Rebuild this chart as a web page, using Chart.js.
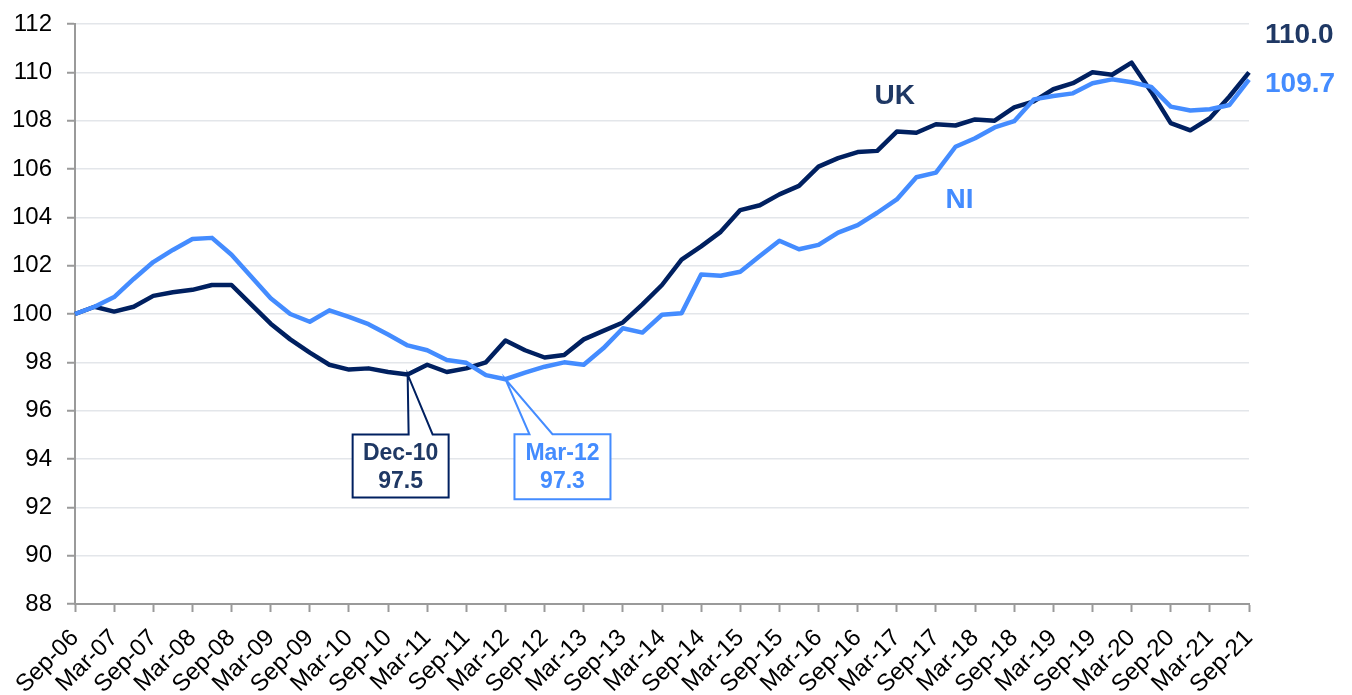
<!DOCTYPE html>
<html>
<head>
<meta charset="utf-8">
<title>House price index - UK and NI</title>
<script src="https://cdn.jsdelivr.net/npm/chart.js@4.4.1/dist/chart.umd.min.js"></script>
<style>
    html, body { margin: 0; padding: 0; background: #fff; }
    #wrap { width: 1352px; height: 695px; }
</style>
</head>
<body>
<div id="wrap"><canvas id="indexChart" width="1352" height="695"></canvas></div>
<script>
// Quarterly index, Sep-06 = 100
const quarters = [
    'Sep-06', 'Dec-06', 'Mar-07', 'Jun-07', 'Sep-07', 'Dec-07', 'Mar-08', 'Jun-08',
    'Sep-08', 'Dec-08', 'Mar-09', 'Jun-09', 'Sep-09', 'Dec-09', 'Mar-10', 'Jun-10',
    'Sep-10', 'Dec-10', 'Mar-11', 'Jun-11', 'Sep-11', 'Dec-11', 'Mar-12', 'Jun-12',
    'Sep-12', 'Dec-12', 'Mar-13', 'Jun-13', 'Sep-13', 'Dec-13', 'Mar-14', 'Jun-14',
    'Sep-14', 'Dec-14', 'Mar-15', 'Jun-15', 'Sep-15', 'Dec-15', 'Mar-16', 'Jun-16',
    'Sep-16', 'Dec-16', 'Mar-17', 'Jun-17', 'Sep-17', 'Dec-17', 'Mar-18', 'Jun-18',
    'Sep-18', 'Dec-18', 'Mar-19', 'Jun-19', 'Sep-19', 'Dec-19', 'Mar-20', 'Jun-20',
    'Sep-20', 'Dec-20', 'Mar-21', 'Jun-21', 'Sep-21'
];

const ukValues = [
    100.0, 100.3, 100.1, 100.3, 100.75, 100.9, 101.0, 101.2, 101.2, 100.4,
    99.6, 98.95, 98.4, 97.9, 97.7, 97.75, 97.6, 97.5, 97.9, 97.6,
    97.75, 98.0, 98.9, 98.5, 98.2, 98.3, 98.95, 99.3, 99.65, 100.4,
    101.2, 102.25, 102.8, 103.4, 104.3, 104.5, 104.95, 105.3, 106.1, 106.45,
    106.7, 106.75, 107.55, 107.5, 107.85, 107.8, 108.05, 108.0, 108.55, 108.8,
    109.3, 109.55, 110.0, 109.9, 110.4, 109.2, 107.9, 107.6, 108.1, 109.0,
    110.0
];

const niValues = [
    100.0, 100.3, 100.7, 101.45, 102.15, 102.65, 103.1, 103.15, 102.45, 101.55,
    100.65, 100.0, 99.68, 100.15, 99.88, 99.58, 99.15, 98.7, 98.5, 98.1,
    97.98, 97.47, 97.3, 97.57, 97.82, 98.0, 97.9, 98.58, 99.41, 99.23,
    99.97, 100.03, 101.63, 101.58, 101.75, 102.4, 103.03, 102.68, 102.86, 103.37,
    103.68, 104.19, 104.74, 105.66, 105.85, 106.92, 107.27, 107.72, 107.98, 108.88,
    109.02, 109.13, 109.55, 109.71, 109.59, 109.4, 108.58, 108.42, 108.47, 108.65,
    109.7
];

const yMin = 88;
const yMax = 112;
const yStep = 2;

// low points called out on the chart
const ukLow = { index: 17, lines: ['Dec-10', '97.5'] };
const niLow = { index: 22, lines: ['Mar-12', '97.3'] };

const ukEndLabel = '110.0';
const niEndLabel = '109.7';

const FONT = '"Liberation Sans", Arial, sans-serif';
const UK_LINE = '#002060';
const UK_TEXT = '#1F3864';
const NI_BLUE = '#448CFF';
const AXIS_GREY = '#9a9a9a';

function drawCallout(ctx, px, py, box, stroke, textColor, lines) {
    const left = px + box.dx;
    const top = py + box.dy;
    ctx.save();
    ctx.fillStyle = '#fff';
    ctx.fillRect(left, top, box.w, box.h);
    ctx.strokeStyle = stroke;
    ctx.lineWidth = 2;
    ctx.lineJoin = 'miter';
    ctx.beginPath();
    ctx.moveTo(left, top);
    ctx.lineTo(px + box.b1, top);
    ctx.lineTo(px, py);
    ctx.lineTo(px + box.b2, top);
    ctx.lineTo(left + box.w, top);
    ctx.lineTo(left + box.w, top + box.h);
    ctx.lineTo(left, top + box.h);
    ctx.closePath();
    ctx.stroke();

    ctx.fillStyle = textColor;
    ctx.font = 'bold 23px ' + FONT;
    ctx.textAlign = 'center';
    ctx.textBaseline = 'middle';
    ctx.fillText(lines[0], left + box.w / 2, top + 19);
    ctx.fillText(lines[1], left + box.w / 2, top + 47);
    ctx.restore();
}

const labelsPlugin = {
    id: 'chartLabels',
    afterDatasetsDraw(chart) {
        const ctx = chart.ctx;
        const xs = chart.scales.x;
        const ys = chart.scales.y;
        const last = quarters.length - 1;

        ctx.save();
        ctx.font = 'bold 28px ' + FONT;
        ctx.textBaseline = 'middle';

        // end values
        ctx.textAlign = 'left';
        const endX = xs.getPixelForValue(last) + 16;
        ctx.fillStyle = UK_TEXT;
        ctx.fillText(ukEndLabel, endX, ys.getPixelForValue(ukValues[last]) - 37);
        ctx.fillStyle = NI_BLUE;
        ctx.fillText(niEndLabel, endX, ys.getPixelForValue(niValues[last]) + 5);

        // series names
        ctx.textAlign = 'center';
        ctx.fillStyle = UK_TEXT;
        ctx.fillText('UK', xs.getPixelForValue(41.9), ys.getPixelForValue(109.0));
        ctx.fillStyle = NI_BLUE;
        ctx.fillText('NI', xs.getPixelForValue(45.2), ys.getPixelForValue(104.7));
        ctx.restore();

        // callouts for the lows
        drawCallout(ctx,
            xs.getPixelForValue(ukLow.index), ys.getPixelForValue(ukValues[ukLow.index]),
            { dx: -55, dy: 60, w: 96, h: 63, b1: 1, b2: 25 },
            UK_LINE, UK_TEXT, ukLow.lines);
        drawCallout(ctx,
            xs.getPixelForValue(niLow.index), ys.getPixelForValue(niValues[niLow.index]),
            { dx: 9, dy: 55, w: 96, h: 65, b1: 24, b2: 47 },
            NI_BLUE, NI_BLUE, niLow.lines);
    }
};

new Chart(document.getElementById('indexChart'), {
    type: 'line',
    data: {
        labels: quarters,
        datasets: [
            {
                label: 'NI',
                data: niValues,
                borderColor: NI_BLUE,
                borderWidth: 4.5,
                pointRadius: 0,
                tension: 0,
                borderJoinStyle: 'round',
                fill: false
            },
            {
                label: 'UK',
                data: ukValues,
                borderColor: UK_LINE,
                borderWidth: 4.5,
                pointRadius: 0,
                tension: 0,
                borderJoinStyle: 'round',
                fill: false
            }
        ]
    },
    options: {
        responsive: false,
        animation: false,
        layout: { padding: { top: 24, right: 103, bottom: 0, left: 0 } },
        plugins: {
            legend: { display: false },
            tooltip: { enabled: false }
        },
        scales: {
            x: {
                grid: {
                    drawOnChartArea: false,
                    drawTicks: true,
                    tickLength: 8,
                    tickWidth: 2,
                    tickColor: function(context) {
                        return context.index % 2 ? 'rgba(0,0,0,0)' : AXIS_GREY;
                    }
                },
                border: { color: AXIS_GREY, width: 2 },
                ticks: {
                    autoSkip: false,
                    maxRotation: 45,
                    minRotation: 45,
                    padding: 12,
                    color: '#000',
                    font: { family: FONT, size: 24 },
                    callback: function(value, index) {
                        return index % 2 ? '' : quarters[index];
                    }
                },
                afterFit: function(scale) { scale.height = 91; }
            },
            y: {
                min: yMin,
                max: yMax,
                ticks: {
                    stepSize: yStep,
                    padding: 15,
                    color: '#000',
                    // small line height keeps the top label from pushing the plot down
                    font: { family: FONT, size: 24, lineHeight: 0.6 }
                },
                grid: {
                    color: '#e3e6ea',
                    lineWidth: 1.5,
                    tickLength: 8,
                    tickWidth: 2,
                    tickColor: AXIS_GREY
                },
                border: { color: AXIS_GREY, width: 2 },
                afterFit: function(scale) { scale.width = 75; }
            }
        }
    },
    plugins: [labelsPlugin]
});
</script>
</body>
</html>
